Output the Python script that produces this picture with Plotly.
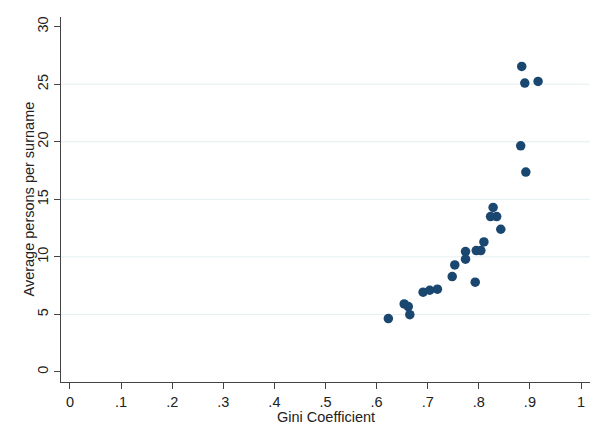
import plotly.graph_objects as go

# Gini coefficient vs. average persons per surname
gini = [0.884, 0.890, 0.916, 0.882, 0.892,
        0.828, 0.823, 0.835, 0.843, 0.810, 0.795, 0.804,
        0.774, 0.774, 0.753, 0.748, 0.793, 0.719, 0.704, 0.691,
        0.654, 0.662, 0.665, 0.623]
persons = [26.55, 25.1, 25.24, 19.65, 17.37,
           14.3, 13.5, 13.5, 12.4, 11.3, 10.55, 10.55,
           10.46, 9.8, 9.3, 8.29, 7.8, 7.19, 7.1, 6.93,
           5.91, 5.68, 4.98, 4.64]

x_ticks = [0, 0.1, 0.2, 0.3, 0.4, 0.5, 0.6, 0.7, 0.8, 0.9, 1]
x_labels = ["0", ".1", ".2", ".3", ".4", ".5", ".6", ".7", ".8", ".9", "1"]
y_ticks = [0, 5, 10, 15, 20, 25, 30]
grid_levels = [5, 10, 15, 20, 25]

FONT = "Liberation Sans, Arial, sans-serif"
AXIS_COLOR = "#444444"
W, H = 593, 443
ML, MR, MT, MB = 61, 3, 17, 61
PW, PH = W - ML - MR, H - MT - MB

fig = go.Figure()
fig.add_trace(go.Scatter(
    x=gini, y=persons, mode="markers",
    marker=dict(size=9.5, color="#1a476f", line=dict(width=0)),
    showlegend=False, hoverinfo="skip",
))

for g in grid_levels:
    fig.add_shape(type="line", xref="paper", x0=0, x1=1, yref="y", y0=g, y1=g,
                  line=dict(color="#e6eef1", width=1), layer="below")

# axis titles placed as annotations for tight control of their offsets
fig.add_annotation(text="Gini Coefficient", xref="paper", yref="paper",
                   x=0.5, y=-35 / PH, xanchor="center", yanchor="middle",
                   showarrow=False, font=dict(size=14.5))
fig.add_annotation(text="Average persons per surname", xref="paper", yref="paper",
                   x=-33 / PW, y=0.5, xanchor="center", yanchor="middle",
                   textangle=-90, showarrow=False, font=dict(size=14.5))

fig.update_layout(
    width=W, height=H,
    margin=dict(l=ML, r=MR, t=MT, b=MB),
    paper_bgcolor="white", plot_bgcolor="white",
    font=dict(family=FONT, size=14.5, color="#222222"),
    xaxis=dict(
        range=[-0.0176, 1.0176], tickvals=x_ticks, ticktext=x_labels,
        showgrid=False, zeroline=False,
        showline=True, linecolor=AXIS_COLOR, linewidth=1.3,
        ticks="outside", ticklen=6, tickcolor=AXIS_COLOR, tickwidth=1.3,
        tickfont=dict(size=14.5),
    ),
    yaxis=dict(
        range=[-0.87, 30.84], tickvals=y_ticks, tickangle=-90,
        showgrid=False, zeroline=False,
        showline=True, linecolor=AXIS_COLOR, linewidth=1.3,
        ticks="outside", ticklen=6, tickcolor=AXIS_COLOR, tickwidth=1.3,
        tickfont=dict(size=14.5),
    ),
)

fig.write_html("out.html")
